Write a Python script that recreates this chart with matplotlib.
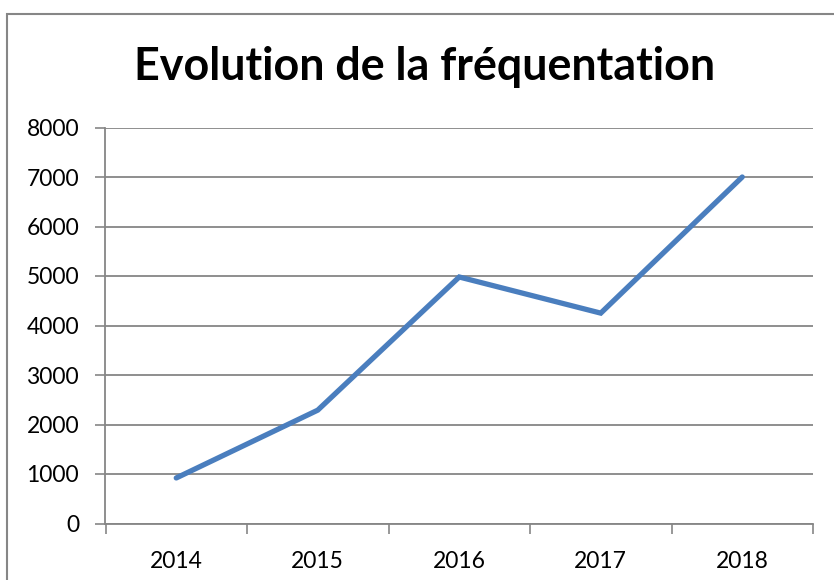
import matplotlib.pyplot as plt
from matplotlib.patches import Rectangle
import numpy as np

plt.rcParams['font.family'] = ['Lato', 'DejaVu Sans']

years = ['2014', '2015', '2016', '2017', '2018']
visits = [920, 2290, 4980, 4250, 7000]
y_ticks = [0, 1000, 2000, 3000, 4000, 5000, 6000, 7000, 8000]

grid_col = '#868686'

fig = plt.figure(figsize=(8.34, 5.80), dpi=100)
ax = fig.add_axes([105.5 / 834, 1 - 523.5 / 580, (813 - 105.5) / 834, (523.5 - 127.5) / 580])

# outer chart border (cropped on right and bottom)
fig.patches.append(Rectangle((7 / 834, -0.1), 1.1, 1 - 14 / 580 + 0.1,
                             transform=fig.transFigure, fill=False,
                             edgecolor=grid_col, linewidth=1.5))

x = np.arange(len(years))
ax.plot(x, visits, color='#4A7EBE', linewidth=3.8, solid_capstyle='round',
        solid_joinstyle='miter', zorder=3)

ax.set_xlim(-0.5, len(years) - 0.5)
ax.set_ylim(0, 8000)
ax.set_yticks(y_ticks)
ax.set_yticklabels([str(v) for v in y_ticks])
ax.set_xticks(x)
ax.set_xticklabels(years)
ax.set_xticks(np.arange(-0.5, len(years)), minor=True)

ax.tick_params(axis='x', which='major', length=0, pad=20, labelsize=16.5)
ax.tick_params(axis='x', which='minor', length=7, width=1.2, color=grid_col, direction='out')
ax.tick_params(axis='y', length=7, width=1.2, color=grid_col, pad=12, labelsize=16.5)

ax.yaxis.grid(True, color=grid_col, linewidth=1.3)
ax.set_axisbelow(True)
for side in ['top', 'right']:
    ax.spines[side].set_visible(False)
for side in ['left', 'bottom']:
    ax.spines[side].set_color(grid_col)
    ax.spines[side].set_linewidth(1.3)

fig.text(425 / 834, 1 - 67 / 580, 'Evolution de la fréquentation',
         ha='center', va='center', fontsize=32.3, fontweight='bold')

fig.savefig('out.png', dpi=100)
